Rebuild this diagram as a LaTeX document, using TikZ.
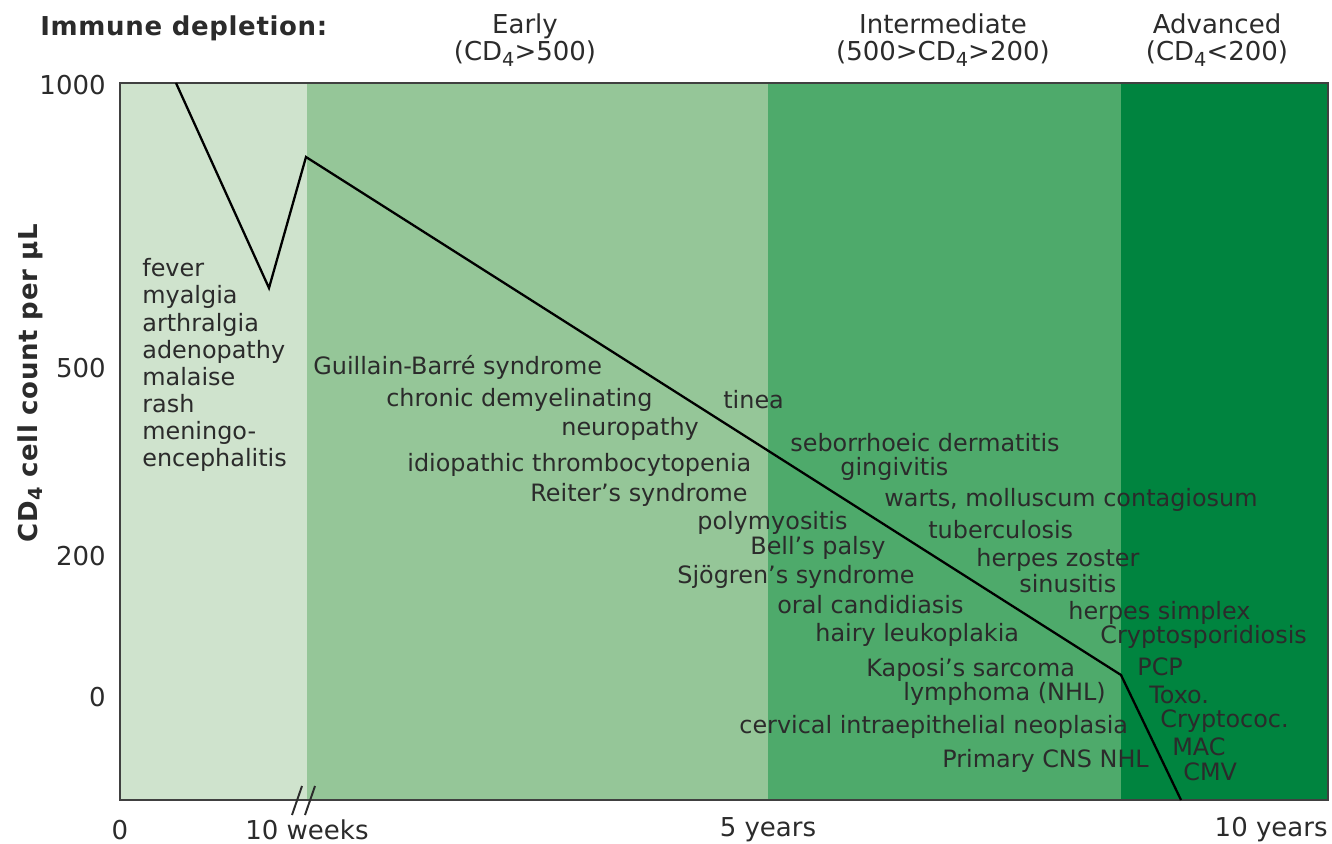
\documentclass[tikz,border=0pt]{standalone}
\usepackage{fontspec}
\setmainfont{DejaVu Sans}
\usetikzlibrary{calc}
\definecolor{stage0}{HTML}{CFE3CD}
\definecolor{stage1}{HTML}{95C698}
\definecolor{stage2}{HTML}{4EAA6B}
\definecolor{stage3}{HTML}{00843F}
\definecolor{ink}{HTML}{2B2B2B}
\newcommand{\cdfour}{CD\raisebox{-0.45ex}{\fontsize{11}{11}\selectfont 4}}
\newcommand{\cdfourbf}{CD\raisebox{-0.4ex}{\fontsize{11}{11}\selectfont\bfseries 4}}

\begin{document}
\begin{tikzpicture}[x=0.2mm,y=-0.2mm,
                    my text/.style={inner sep=0pt,text=ink,font=\fontsize{13.6}{15}\selectfont},
                    my label/.style={my text,anchor=west},
                    my tick/.style={my text,anchor=east,font=\fontsize{14.8}{16}\selectfont},
                    my head/.style={my text,align=center,font=\fontsize{14.8}{15.5}\selectfont},
                    my bold/.style={my text,font=\fontsize{14.8}{16}\selectfont\bfseries\addfontfeature{LetterSpace=2.5}},
                    my frame/.style={draw=ink!90,line width=1.1pt},
                    my curve/.style={black,line width=1.3pt,line join=miter}]
\useasboundingbox (0,0) rectangle (1332,844);
% stage bands
\fill[stage0] (120,83) rectangle (307,800);
\fill[stage1] (307,83) rectangle (768,800);
\fill[stage2] (768,83) rectangle (1121,800);
\fill[stage3] (1121,83) rectangle (1328,800);
\draw[my frame] (120,83) rectangle (1328,800);
% axis break
\draw[ink,line width=1.1pt] (292,815) -- (302,786) (305,815) -- (315,786);
% CD4 course
\coordinate (infection) at (176,83);
\coordinate (acute dip) at (269,288);
\coordinate (set point) at (306,157);
\coordinate (advanced) at (1121,675);
\coordinate (end) at (1181,800);
\draw[my curve] (infection) -- (acute dip) -- (set point) -- (advanced) -- (end);
% headings
\node[my bold,anchor=west] (title) at (40,28) {Immune depletion:};
\node[my head] (early) at (525,40) {Early\\(\cdfour>500)};
\node[my head] (inter) at (943,40) {Intermediate\\(500>\cdfour>200)};
\node[my head] (adv) at (1217,40) {Advanced\\(\cdfour<200)};
% y axis
\node[my tick] (y1000) at (106,85) {1000};
\node[my tick] (y500) at (106,368) {500};
\node[my tick] (y200) at (106,556) {200};
\node[my tick] (y0) at (106,697) {0};
\node[my bold,rotate=90] (ylabel) at (30,383) {\cdfourbf{} cell count per μL};
% x axis
\node[my tick,anchor=center] (x0) at (120,830) {0};
\node[my tick,anchor=center] (x10w) at (307,830) {10 weeks};
\node[my tick,anchor=center] (x5y) at (768,830) {5 years};
\node[my tick,anchor=east] (x10y) at (1328,830) {10 years};
% acute symptoms
\node[my label,align=left,font=\fontsize{13.6}{15.4}\selectfont] (acute) at (142,365) {fever\\myalgia\\arthralgia\\adenopathy\\malaise\\rash\\meningo-\\encephalitis};
% early and intermediate complications
\node[my label] (gbs) at (313,367) {Guillain-Barré syndrome};
\node[my label] (cidp) at (386,400) {chronic demyelinating};
\node[my label] (neuro) at (561,429) {neuropathy};
\node[my label] (tinea) at (723,400) {tinea};
\node[my label] (itp) at (407,465) {idiopathic thrombocytopenia};
\node[my label] (reiter) at (530,495) {Reiter’s syndrome};
\node[my label] (sebo) at (790,443) {seborrhoeic dermatitis};
\node[my label] (ging) at (840,469) {gingivitis};
\node[my label] (warts) at (884,500) {warts, molluscum contagiosum};
\node[my label] (poly) at (697,523) {polymyositis};
\node[my label] (tb) at (928,530) {tuberculosis};
\node[my label] (bell) at (750,548) {Bell’s palsy};
\node[my label] (zoster) at (976,560) {herpes zoster};
\node[my label] (sjogren) at (677,577) {Sjögren’s syndrome};
\node[my label] (sinus) at (1019,584) {sinusitis};
\node[my label] (oral) at (777,605) {oral candidiasis};
\node[my label] (simplex) at (1068,613) {herpes simplex};
\node[my label] (hairy) at (815,635) {hairy leukoplakia};
\node[my label] (crypto) at (1100,637) {Cryptosporidiosis};
\node[my label] (kaposi) at (866,670) {Kaposi’s sarcoma};
\node[my label] (pcp) at (1137,667) {PCP};
\node[my label] (nhl) at (903,694) {lymphoma (NHL)};
\node[my label] (toxo) at (1149,695) {Toxo.};
\node[my label] (cryptococ) at (1160,721) {Cryptococ.};
\node[my label] (cin) at (739,727) {cervical intraepithelial neoplasia};
\node[my label] (mac) at (1172,747) {MAC};
\node[my label] (cns) at (942,761) {Primary CNS NHL};
\node[my label] (cmv) at (1183,772) {CMV};
\end{tikzpicture}
\end{document}
